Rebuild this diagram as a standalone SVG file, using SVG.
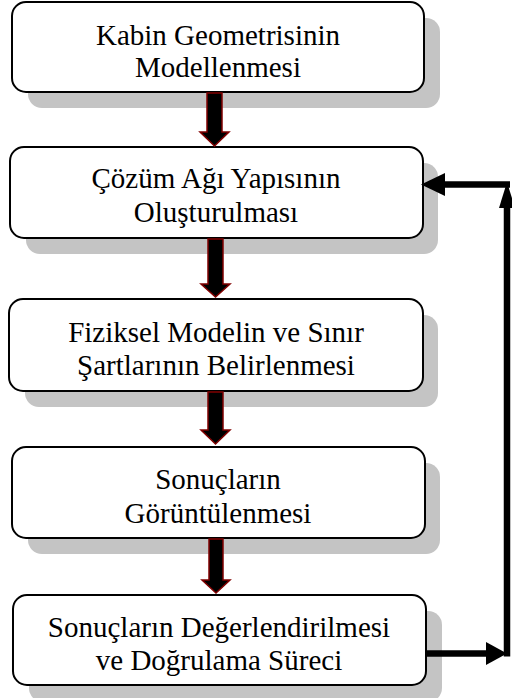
<svg xmlns="http://www.w3.org/2000/svg" width="512" height="698" viewBox="0 0 512 698">
<style>
.shadow{fill:#c4c4c4}
.box{fill:#ffffff;stroke:#000000;stroke-width:2}
.t{font-size:29px;fill:#000000;text-anchor:middle}
.down{fill:#000000;stroke:#800000;stroke-width:1.5;stroke-linejoin:miter}
.line{stroke:#000000;stroke-width:6.5;fill:none}
.head{fill:#000000}
</style>
<rect width="512" height="698" fill="#ffffff"/>
<g font-family="Liberation Serif, DejaVu Serif, serif">
<g id="node1">
<rect class="shadow" x="28" y="18" width="412" height="90" rx="14"/>
<rect class="box" x="12" y="2" width="412" height="90" rx="14"/>
<text class="t" x="218" y="45">Kabin Geometrisinin</text>
<text class="t" x="218" y="77">Modellenmesi</text>
</g>
<g id="node2">
<rect class="shadow" x="26" y="163" width="412" height="91" rx="14"/>
<rect class="box" x="10" y="147" width="413" height="91" rx="14"/>
<text class="t" x="216" y="188">Çözüm Ağı Yapısının</text>
<text class="t" x="216" y="222">Oluşturulması</text>
</g>
<g id="node3">
<rect class="shadow" x="25" y="315" width="413" height="92" rx="14"/>
<rect class="box" x="9" y="299" width="414" height="92" rx="14"/>
<text class="t" x="216" y="342">Fiziksel Modelin ve Sınır</text>
<text class="t" x="216" y="375">Şartlarının Belirlenmesi</text>
</g>
<g id="node4">
<rect class="shadow" x="28" y="463" width="412" height="91" rx="14"/>
<rect class="box" x="12" y="447" width="413" height="91" rx="14"/>
<text class="t" x="218" y="489">Sonuçların</text>
<text class="t" x="218" y="523">Görüntülenmesi</text>
</g>
<g id="node5">
<rect class="shadow" x="29" y="611" width="413" height="91" rx="14"/>
<rect class="box" x="13" y="595" width="413" height="90" rx="14"/>
<text class="t" x="219" y="637">Sonuçların Değerlendirilmesi</text>
<text class="t" x="219" y="670">ve Doğrulama Süreci</text>
</g>
</g>
<g id="connectors">
<polygon class="down" points="207,93 222,93 222,132 229,132 214.5,146 200,132 207,132"/>
<polygon class="down" points="208,239 223,239 223,284 230,284 215.5,297 201,284 208,284"/>
<polygon class="down" points="208,392 223,392 223,430 230,430 215.5,444 201,430 208,430"/>
<polygon class="down" points="209,539 223,539 223,580 230,580 216,593 202,580 209,580"/>
<line class="line" x1="426" y1="653.5" x2="488" y2="653.5"/>
<polygon class="head" points="486,642 507,653.5 486,665"/>
<line class="line" x1="507" y1="656.5" x2="507" y2="206"/>
<polygon class="head" points="499,208 507,182 515,208"/>
<line class="line" x1="510" y1="184.5" x2="443" y2="184.5"/>
<polygon class="head" points="445,173 421,184.5 445,196"/>
</g>
</svg>
